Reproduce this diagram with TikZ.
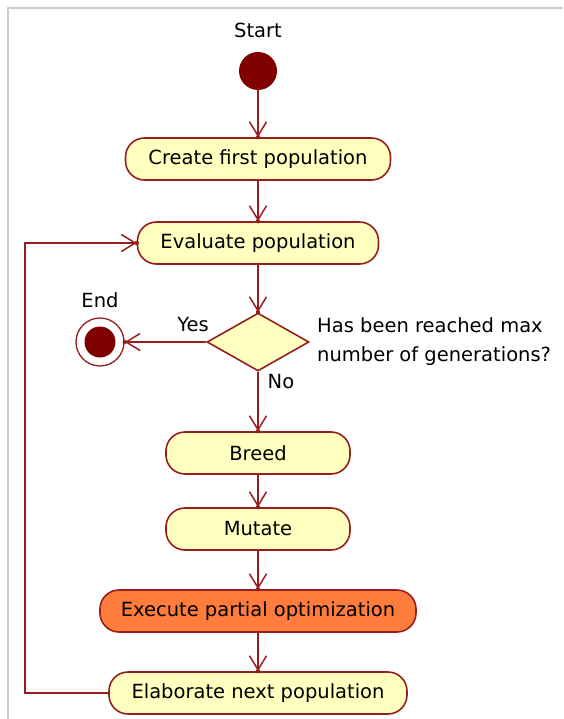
\documentclass[tikz,border=0pt]{standalone}
\usepackage{fontspec}
\setmainfont{DejaVu Sans}
\usetikzlibrary{arrows.meta,shapes.geometric}
\definecolor{lc}{RGB}{150,30,30}
\definecolor{dred}{RGB}{128,0,0}
\definecolor{boxfill}{RGB}{255,255,192}
\definecolor{orangefill}{RGB}{255,125,60}
\definecolor{frame}{RGB}{205,205,205}
\begin{document}
\begin{tikzpicture}[x=1pt,y=-1pt,
  every node/.style={font=\fontsize{19.5}{29}\selectfont, text=black},
  actbox/.style={draw=lc, line width=1.6pt, fill=boxfill, rounded corners=19pt, inner sep=0pt, minimum height=42pt},
  flow/.style={draw=lc, line width=1.6pt, -{Straight Barb[length=14pt,width=17pt,line width=1.5pt]}},
  tipdot/.style={fill=lc},
  lbl/.style={inner sep=0pt}
]
\useasboundingbox (0,0) rectangle (563,719);
\draw[frame, line width=1.2pt] (8,719) -- (8,8) -- (563,8);

\node[lbl] (starttxt) at (258,30) {Start};
\node[circle, fill=dred, minimum size=38pt, inner sep=0pt] (start) at (258,71) {};
\node[actbox, minimum width=265pt] (create) at (258,159) {Create first population};
\node[actbox, minimum width=241pt] (eval) at (258,243) {Evaluate population};
\node[diamond, draw=lc, line width=1.6pt, fill=boxfill, minimum width=102pt, minimum height=58pt, aspect=1.76, inner sep=0pt] (dec) at (258,342) {};
\node[circle, draw=lc, line width=1.3pt, fill=white, minimum size=48pt, inner sep=0pt] (end) at (100,342) {};
\node[circle, fill=dred, minimum size=31pt, inner sep=0pt] (endin) at (100,342) {};
\node[lbl] (endtxt) at (100,300) {End};
\node[lbl] (yes) at (193,325) {Yes};
\node[lbl] (no) at (281,382) {No};
\node[lbl, align=left, anchor=west] (q) at (317,342) {Has been reached max\\number of generations?};
\node[actbox, minimum width=184pt] (breed) at (258,453) {Breed};
\node[actbox, minimum width=184pt] (mutate) at (258,529) {Mutate};
\node[actbox, minimum width=316pt, fill=orangefill] (exec) at (258,611) {Execute partial optimization};
\node[actbox, minimum width=298pt] (elab) at (258,693) {Elaborate next population};
\coordinate (lb) at (25,693);
\coordinate (lt) at (25,243);

\draw[flow] (start) -- (create);
\draw[flow] (create) -- (eval);
\draw[flow] (eval) -- (dec);
\draw[flow] (dec.west) -- (end.east);
\draw[flow] (dec.south) -- (breed);
\draw[flow] (breed) -- (mutate);
\draw[flow] (mutate) -- (exec);
\draw[flow] (exec) -- (elab);
\draw[flow] (elab.west) -- (lb) -- (lt) -- (eval.west);

\foreach \p in {create.north, eval.north, dec.north, end.east, breed.north, mutate.north, exec.north, elab.north, eval.west}
  \fill[tipdot] (\p) circle (2.2pt);
\end{tikzpicture}
\end{document}
